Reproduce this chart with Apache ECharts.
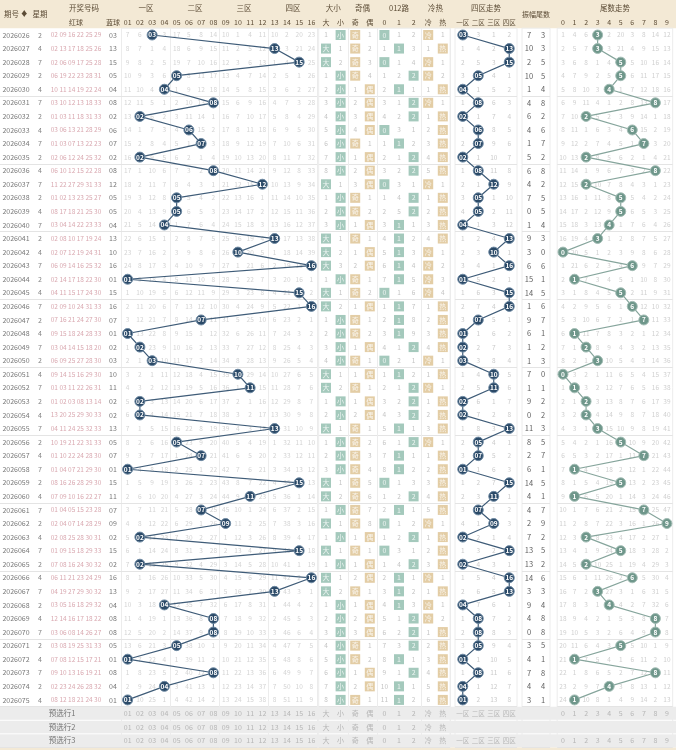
<!DOCTYPE html>
<html>
<head>
<meta charset="utf-8">
<script src="https://cdn.jsdelivr.net/npm/echarts@6/dist/echarts.min.js"></script>
<style>
  html, body { margin: 0; padding: 0; background: #fff; }
  #chart { width: 676px; height: 750px; }
</style>
</head>
<body>
<div id="chart"></div>
<script>
const periods = ['2026026','2026027','2026028','2026029','2026030','2026031','2026032','2026033','2026034','2026035',
  '2026036','2026037','2026038','2026039','2026040','2026041','2026042','2026043','2026044','2026045',
  '2026046','2026047','2026048','2026049','2026050','2026051','2026052','2026053','2026054','2026055',
  '2026056','2026057','2026058','2026059','2026060','2026061','2026062','2026063','2026064','2026065',
  '2026066','2026067','2026068','2026069','2026070','2026071','2026072','2026073','2026074','2026075'];
const weekdays = [2,4,7,2,4,7,2,4,7,2, 4,7,2,4,7,2,4,7,2,4, 7,2,4,7,2,4,7,2,4,7, 2,4,7,2,4,7,2,4,7,2, 4,7,2,4,7,2,4,7,2,4];
const redBalls = ['02 09 16 22 25 29','02 13 17 18 25 26','02 06 09 17 25 28','06 19 22 23 28 31','10 11 14 19 22 24',
  '03 10 12 13 18 33','01 03 11 18 31 33','03 06 13 21 28 29','01 03 07 13 22 23','02 06 12 24 25 32',
  '06 10 12 15 22 28','11 22 27 29 31 33','01 02 13 23 25 27','08 17 18 21 25 30','03 04 14 22 23 33',
  '02 08 10 17 19 24','02 07 12 19 24 31','06 09 14 16 25 32','02 14 17 18 22 30','04 11 15 17 24 30',
  '02 09 10 24 31 33','07 16 21 24 27 30','09 15 18 24 28 33','03 04 14 15 18 20','06 09 25 27 28 30',
  '09 14 15 16 29 30','01 03 11 22 26 31','01 02 03 08 13 14','13 20 25 29 30 33','04 11 24 25 32 33',
  '10 19 21 22 31 33','01 10 22 24 28 30','01 04 07 21 29 30','08 16 26 28 29 30','07 09 10 16 22 27',
  '01 04 05 15 23 28','02 04 07 14 28 29','02 08 25 28 30 31','01 09 15 18 29 33','07 08 16 24 30 32',
  '06 11 21 23 24 29','04 19 27 29 30 32','03 05 16 18 29 32','12 14 16 17 18 22','03 06 08 14 26 27',
  '03 08 19 25 31 33','07 08 12 15 17 21','09 10 13 16 19 21','02 23 24 26 28 32','08 12 18 21 24 30'];
const blueBalls = [3,13,15,5,4,8,2,6,7,2, 8,12,5,5,4,13,10,16,1,15, 16,7,1,2,3,10,11,2,2,13, 5,7,1,15,11,7,9,2,15,2, 16,13,4,8,8,5,1,8,4,1];
const hotCold = ['冷','热','冷','冷','热','冷','热','热','热','热', '热','冷','热','热','热','热','冷','冷','冷','冷',
  '热','热','热','热','冷','热','冷','热','热','热', '冷','热','热','热','热','热','冷','热','热','热',
  '冷','热','冷','冷','热','热','热','热','热','热'];
const prevBlue = 10; // draw before 2026026

// omission counts shown on the first row (0 = hit)
const blueMiss0 = [7,6,0,3,17,5,8,14,10,1,4,11,10,2,20,23];
const attrMiss0 = [1,0, 0,1, 0,1,2, 0,1];
const zoneMiss0 = [0,3,1,2];
const tailMiss0 = [1,4,6,0,2,20,3,8,14,12];

const numCols = ['01','02','03','04','05','06','07','08','09','10','11','12','13','14','15','16'];
const attrCols = ['大','小','奇','偶','0','1','2','冷','热'];
const zoneCols = ['一区','二区','三区','四区'];
const tailCols = ['0','1','2','3','4','5','6','7','8','9'];
const footRows = ['预选行1','预选行2','预选行3'];

const FONT = '"Noto Sans CJK SC", "Noto Sans", sans-serif';
const ROW_H = 13.57;
const TOP = 28.2;
const rowsAll = periods.concat(footRows);
const N = periods.length;
const pad = v => String(v).padStart(2, '0');

// hit column per row for each block
const blueHit = blueBalls.map(b => b - 1);
const zoneHit = blueBalls.map(b => Math.floor((b - 1) / 4));
const tailHit = blueBalls.map(b => b % 10);
const sizeHit = blueBalls.map(b => (b >= 9 ? 0 : 1));
const oddHit = blueBalls.map(b => (b % 2 ? 2 : 3));
const modHit = blueBalls.map(b => 4 + (b % 3));
const hotHit = hotCold.map(h => (h === '冷' ? 7 : 8));
const amps = blueBalls.map((b, i) => Math.abs(b - (i ? blueBalls[i - 1] : prevBlue)));

function missTable(hits, first) {
  const out = [];
  let prev = null;
  hits.forEach((h, i) => {
    const cur = first.map((v, c) => (h.includes(c) ? 0 : (i === 0 ? v : prev[c] + 1)));
    out.push(cur);
    prev = cur;
  });
  return out;
}
const blueMiss = missTable(blueHit.map(h => [h]), blueMiss0);
const zoneMiss = missTable(zoneHit.map(h => [h]), zoneMiss0);
const tailMiss = missTable(tailHit.map(h => [h]), tailMiss0);
const attrMiss = missTable(blueBalls.map((b, i) => [sizeHit[i], oddHit[i], modHit[i], hotHit[i]]), attrMiss0);

function missData(table) {
  const d = [];
  table.forEach((row, i) => row.forEach((v, c) => { if (v > 0) d.push([c, i, v]); }));
  return d;
}
function footData(cols, rows) {
  const d = [];
  rows.forEach(r => cols.forEach((t, c) => d.push([c, N + r, t])));
  return d;
}

// column blocks (left, width in px)
const blocks = [
  { left: 0, width: 32, cols: [''] },
  { left: 32, width: 16, cols: [''] },
  { left: 48, width: 56, cols: ['红球'] },
  { left: 104, width: 18, cols: ['蓝球'] },
  { left: 121.5, width: 196, cols: numCols, vsplit: 4 },
  { left: 318.7, width: 131.4, cols: attrCols, vsplit: [2, 4, 7] },
  { left: 455, width: 62, cols: zoneCols },
  { left: 522, width: 28, cols: ['', ''] },
  { left: 557.2, width: 115.5, cols: tailCols }
];
const colX = (b, i) => blocks[b].left + blocks[b].width / blocks[b].cols.length * (i + 0.5);

const grid = blocks.map((b, i) => ({
  left: b.left, width: b.width, top: TOP, height: rowsAll.length * ROW_H,
  show: i >= 4, borderColor: '#ececec', borderWidth: 1, backgroundColor: 'rgba(0,0,0,0)'
}));
const xAxis = blocks.map((b, i) => ({
  type: 'category', gridIndex: i, data: b.cols, position: 'top',
  axisLine: { show: false }, axisTick: { show: false },
  axisLabel: { show: true, interval: 0, margin: 2, fontSize: i === 6 ? 6.5 : 7, color: '#5c4c36', fontFamily: FONT },
  splitLine: {
    show: !!b.vsplit,
    interval: idx => (Array.isArray(b.vsplit) ? b.vsplit.includes(idx) : idx > 0 && idx % b.vsplit === 0),
    lineStyle: { color: '#ececec', width: 1 }
  }
}));
const yAxis = blocks.map((b, i) => ({
  type: 'category', gridIndex: i, data: rowsAll, inverse: true,
  axisLine: { show: false }, axisTick: { show: false }, axisLabel: { show: false },
  splitLine: { show: true, interval: idx => idx > 0 && idx % 5 === 0 && idx <= N, lineStyle: { color: '#e4e4e4', width: 1 } }
}));

function textSeries(gi, data, color, size, extra) {
  return Object.assign({
    type: 'scatter', xAxisIndex: gi, yAxisIndex: gi, data, silent: true,
    symbol: 'circle', symbolSize: 1, itemStyle: { color: 'rgba(0,0,0,0)' },
    label: { show: true, position: 'inside', formatter: p => p.value[2], color, fontSize: size, fontFamily: FONT },
    z: 2
  }, extra || {});
}
function ballSeries(gi, hits, text, fill, border, lineColor) {
  return {
    type: 'line', xAxisIndex: gi, yAxisIndex: gi, silent: true,
    data: hits.map((h, i) => [h, i]),
    symbol: 'circle', symbolSize: 10, showAllSymbol: true,
    lineStyle: { color: lineColor, width: 1.2 },
    itemStyle: { color: fill, borderColor: border, borderWidth: 1 },
    label: { show: true, position: 'inside', formatter: p => text[p.dataIndex], color: '#fff',
      fontSize: 6.5, fontWeight: 'bold', fontFamily: FONT },
    z: 5
  };
}

const attrColor = ['#8dbcab', '#8dbcab', '#dcc18e', '#dcc18e', '#8dbcab', '#8dbcab', '#8dbcab', '#dcc18e', '#dcc18e'];
const boxData = [];
blueBalls.forEach((b, i) => [sizeHit[i], oddHit[i], modHit[i], hotHit[i]].forEach(c => {
  boxData.push({ value: [c, i, attrCols[c]], itemStyle: { color: attrColor[c] } });
}));

const series = [
  textSeries(0, periods.map((p, i) => [0, i, p]), '#555', 7),
  textSeries(1, weekdays.map((w, i) => [0, i, w]), '#666', 7),
  textSeries(2, redBalls.map((r, i) => [0, i, r]), '#cf929c', 6.5),
  textSeries(2, footRows.map((r, k) => [0, N + k, r]), '#555', 7.5, { label: { show: true, position: 'inside', formatter: p => p.value[2], color: '#555', fontSize: 7.5, fontFamily: FONT, offset: [-14, 0] } }),
  textSeries(3, blueBalls.map((b, i) => [0, i, pad(b)]), '#555', 7),
  // 01-16
  textSeries(4, missData(blueMiss), '#c9c9c9', 6.5),
  textSeries(4, footData(numCols, [0, 1, 2]), '#a9a9a9', 7),
  ballSeries(4, blueHit, blueBalls.map(pad), '#2b4a68', '#6f8aa3', '#3f5c78'),
  // 大小 奇偶 012 冷热
  textSeries(5, missData(attrMiss), '#b4b4b4', 6.5),
  {
    type: 'scatter', xAxisIndex: 5, yAxisIndex: 5, silent: true, data: boxData,
    symbol: 'rect', symbolSize: [10, 10],
    label: { show: true, position: 'inside', formatter: p => p.value[2], color: '#fff', fontSize: 7, fontFamily: FONT },
    z: 4
  },
  textSeries(5, footData(attrCols, [0, 1, 2]), '#a9a9a9', 7),
  // 四区走势
  textSeries(6, missData(zoneMiss), '#bdbdbd', 6.5),
  textSeries(6, footData(zoneCols, [0, 2]), '#a9a9a9', 6.5),
  ballSeries(6, zoneHit, blueBalls.map(pad), '#2b4a68', '#6f8aa3', '#3f5c78'),
  // 振幅 尾数
  textSeries(7, amps.map((a, i) => [0, i, a]), '#333', 7.5),
  textSeries(7, tailHit.map((t, i) => [1, i, t]), '#333', 7.5),
  // 尾数走势
  textSeries(8, missData(tailMiss), '#c4c4c4', 6.5),
  textSeries(8, footData(tailCols, [0, 2]), '#a9a9a9', 7),
  ballSeries(8, tailHit, tailHit.map(String), '#6f978b', '#a3bdb5', '#86a59c')
].map(s => Object.assign(s, { animation: false }));

const hdr = (text, x, y, size) => ({
  type: 'text', x, y, z: 10,
  style: { text, fill: '#5c4c36', fontSize: size || 7.5, fontFamily: FONT, align: 'center', verticalAlign: 'middle' }
});
const footTop = TOP + N * ROW_H;
const graphic = [
  { type: 'rect', z: -10, shape: { x: 0, y: 0, width: 676, height: TOP }, style: { fill: '#f3e9d5' } },
  { type: 'rect', z: -10, shape: { x: 0, y: footTop, width: 676, height: 3 * ROW_H }, style: { fill: '#ececec' } },
  { type: 'line', z: -9, shape: { x1: 0, y1: footTop + ROW_H, x2: 676, y2: footTop + ROW_H }, style: { stroke: '#fff', lineWidth: 1 } },
  { type: 'line', z: -9, shape: { x1: 0, y1: footTop + 2 * ROW_H, x2: 676, y2: footTop + 2 * ROW_H }, style: { stroke: '#fff', lineWidth: 1 } },
  { type: 'rect', z: -10, shape: { x: 0, y: footTop + 3 * ROW_H, width: 676, height: 20 }, style: { fill: '#f3e9d5' } },
  hdr('期号 ♦', colX(0, 0), 14),
  hdr('星期', colX(1, 0), 14),
  hdr('开奖号码', 84, 8),
  hdr('一区', (colX(4, 1) + colX(4, 2)) / 2, 8),
  hdr('二区', (colX(4, 5) + colX(4, 6)) / 2, 8),
  hdr('三区', (colX(4, 9) + colX(4, 10)) / 2, 8),
  hdr('四区', (colX(4, 13) + colX(4, 14)) / 2, 8),
  hdr('大小', (colX(5, 0) + colX(5, 1)) / 2, 8),
  hdr('奇偶', (colX(5, 2) + colX(5, 3)) / 2, 8),
  hdr('012路', colX(5, 5), 8),
  hdr('冷热', (colX(5, 7) + colX(5, 8)) / 2, 8),
  hdr('四区走势', (colX(6, 1) + colX(6, 2)) / 2, 8),
  hdr('振幅', colX(7, 0), 14, 7),
  hdr('尾数', colX(7, 1), 14, 7),
  hdr('尾数走势', (colX(8, 4) + colX(8, 5)) / 2, 8)
];

const chart = echarts.init(document.getElementById('chart'), null, { renderer: 'canvas' });
chart.setOption({
  backgroundColor: '#fff',
  animation: false,
  grid, xAxis, yAxis, series, graphic
});
</script>
</body>
</html>
